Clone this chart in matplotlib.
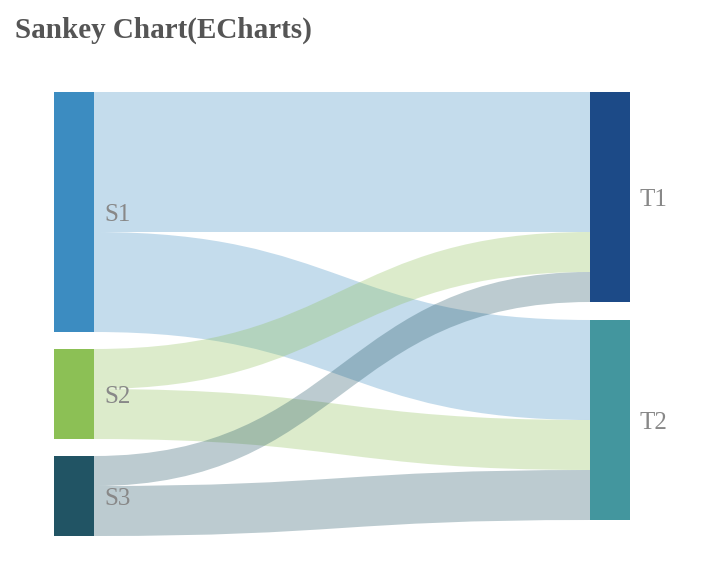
import numpy as np
import matplotlib
matplotlib.use("Agg")
import matplotlib.pyplot as plt
from matplotlib.path import Path
from matplotlib.patches import PathPatch, Rectangle

# ---------------- Data -----------------
sources = ["S1", "S2", "S3"]
targets = ["T1", "T2"]
link_src = ["S1", "S1", "S2", "S2", "S3", "S3"]
link_tgt = ["T1", "T2", "T1", "T2", "T1", "T2"]
link_val = [14, 10, 4, 5, 3, 5]

node_colors = {"S1": "#3c8cc1", "S2": "#8cc055", "S3": "#215464",
               "T1": "#1c4a87", "T2": "#43969e"}

# ---------------- Layout (pixels) -----------------
W, H = 725, 566
top = 92
node_w = 40
x_src, x_tgt = 54, 590
scale = 10.0  # px per unit

def node_totals(names, key):
    return {n: sum(v for s, v in zip(key, link_val) if s == n) for n in names}

src_tot = node_totals(sources, link_src)
tgt_tot = node_totals(targets, link_tgt)

def stack(names, totals, gap):
    pos, y = {}, top
    for n in names:
        pos[n] = y
        y += totals[n] * scale + gap
    return pos

src_y = stack(sources, src_tot, 17)
tgt_y = stack(targets, tgt_tot, 18)

fig = plt.figure(figsize=(W / 100, H / 100), dpi=100)
ax = fig.add_axes([0, 0, 1, 1])
ax.set_xlim(0, W)
ax.set_ylim(H, 0)
ax.axis("off")

# ---------------- Links -----------------
src_off = dict(src_y)
tgt_off = dict(tgt_y)
x0, x1 = x_src + node_w, x_tgt
xm = (x0 + x1) / 2
for s, t, v in zip(link_src, link_tgt, link_val):
    h = v * scale
    ys, yt = src_off[s], tgt_off[t]
    src_off[s] += h
    tgt_off[t] += h
    verts = [(x0, ys), (xm, ys), (xm, yt), (x1, yt),
             (x1, yt + h), (xm, yt + h), (xm, ys + h), (x0, ys + h), (x0, ys)]
    codes = [Path.MOVETO, Path.CURVE4, Path.CURVE4, Path.CURVE4,
             Path.LINETO, Path.CURVE4, Path.CURVE4, Path.CURVE4, Path.CLOSEPOLY]
    ax.add_patch(PathPatch(Path(verts, codes), facecolor=node_colors[s],
                           alpha=0.3, edgecolor="none", zorder=1))

# ---------------- Nodes -----------------
label_kw = dict(fontsize=18, color="#888888", family="Liberation Serif",
                va="center", ha="left", zorder=3)
for names, pos, totals, x in [(sources, src_y, src_tot, x_src),
                              (targets, tgt_y, tgt_tot, x_tgt)]:
    for n in names:
        h = totals[n] * scale
        ax.add_patch(Rectangle((x, pos[n]), node_w, h,
                               facecolor=node_colors[n], edgecolor="none", zorder=2))
        ax.text(x + node_w + 10, pos[n] + h / 2 + 3, n, **label_kw)

ax.text(15, 38, "Sankey Chart(ECharts)", fontsize=21, fontweight="bold",
        color="#555555", family="Liberation Serif", va="baseline", ha="left")

fig.savefig("out.png", dpi=100)
